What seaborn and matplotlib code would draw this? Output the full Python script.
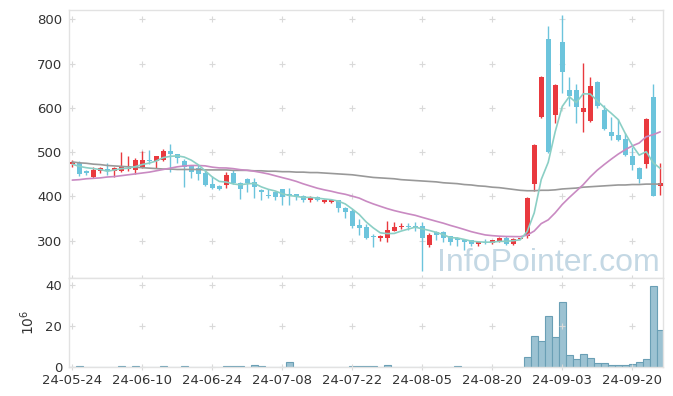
import numpy as np
import pandas as pd
import seaborn as sns
import matplotlib.pyplot as plt

# daily candles (KRW), one per trading day
opens = [473, 476, 458, 443, 458, 462, 458, 458, 463, 460,
         467, 482, 481, 482, 503, 495, 480, 469, 464, 454,
         428, 424, 425, 454, 430, 439, 432, 415, 404, 410,
         417, 405, 405, 401, 391, 398, 387, 387, 392, 374,
         368, 336, 332, 311, 307, 307, 323, 332, 334, 333,
         334, 291, 320, 320, 310, 307, 302, 301, 293, 298,
         295, 300, 307, 293, 305, 310, 428, 580, 756, 585,
         748, 640, 640, 591, 571, 658, 595, 545, 539, 529,
         491, 464, 473, 625, 424]
highs = [482, 480, 460, 467, 467, 475, 466, 501, 491, 488,
         503, 505, 492, 507, 518, 497, 484, 471, 470, 460,
         446, 426, 456, 460, 432, 441, 441, 417, 416, 412,
         418, 419, 406, 403, 402, 400, 394, 394, 393, 376,
         372, 350, 338, 315, 314, 345, 343, 341, 340, 343,
         342, 317, 322, 321, 311, 308, 304, 302, 299, 304,
         302, 309, 311, 307, 305, 398, 518, 671, 784, 653,
         809, 669, 653, 702, 669, 660, 606, 579, 576, 543,
         512, 466, 577, 655, 475]
lows = [467, 447, 449, 441, 452, 449, 445, 456, 458, 451,
        465, 473, 464, 480, 456, 475, 421, 441, 437, 424,
        417, 415, 419, 428, 394, 411, 397, 392, 396, 392,
        381, 381, 392, 388, 387, 389, 385, 385, 366, 352,
        329, 314, 305, 287, 300, 298, 321, 326, 325, 321,
        231, 287, 302, 298, 291, 289, 280, 289, 288, 293,
        293, 298, 291, 291, 305, 307, 413, 578, 498, 565,
        633, 604, 565, 545, 569, 600, 550, 527, 525, 492,
        460, 430, 464, 402, 404]
closes = [477, 451, 452, 460, 464, 458, 465, 467, 465, 482,
          482, 481, 491, 503, 496, 488, 467, 456, 451, 427,
          419, 417, 449, 430, 417, 430, 422, 410, 402, 398,
          399, 402, 400, 391, 398, 391, 392, 392, 375, 366,
          334, 330, 307, 309, 310, 325, 332, 334, 331, 332,
          306, 314, 312, 306, 298, 302, 297, 293, 298, 295,
          301, 307, 293, 305, 305, 396, 516, 669, 500, 651,
          680, 627, 602, 599, 649, 604, 552, 536, 527, 494,
          470, 440, 575, 402, 430]
# volume in millions of shares
volumes = [0.05, 0.5, 0.05, 0.05, 0.05, 0.05, 0.05, 0.5, 0.05, 0.5,
           0.05, 0.05, 0.05, 0.4, 0.05, 0.05, 0.4, 0.05, 0.05, 0.05,
           0.05, 0.05, 0.5, 0.5, 0.5, 0.05, 1.0, 0.5, 0.05, 0.05,
           0.05, 2.4, 0.05, 0.05, 0.05, 0.05, 0.05, 0.05, 0.05, 0.05,
           0.5, 0.5, 0.5, 0.5, 0.05, 1.0, 0.05, 0.05, 0.05, 0.05,
           0.05, 0.05, 0.05, 0.05, 0.05, 0.5, 0.05, 0.05, 0.05, 0.05,
           0.05, 0.05, 0.05, 0.05, 0.0, 4.8, 15.0, 12.7, 24.9, 14.6,
           31.6, 5.7, 3.8, 6.1, 4.2, 1.8, 1.8, 0.9, 0.9, 0.9,
           1.3, 2.2, 3.8, 39.6, 18.0]

# moving averages before enough days are in the window
ma5_head = [473, 468, 465, 463]
ma20_head = [437, 438, 440, 441, 442, 444, 445, 447, 449, 451,
             453, 455, 458, 461, 464, 467, 469, 470, 470]
# long moving average (grey line)
ma_long = [478, 476, 475, 473, 472, 470, 469, 468, 467, 466,
           465, 464, 463, 462, 462, 461, 461, 461, 461, 460,
           460, 460, 460, 459, 459, 459, 458, 458, 457, 457,
           456, 456, 455, 455, 454, 454, 453, 452, 451, 450,
           449, 447, 445, 443, 442, 441, 440, 438, 437, 436,
           435, 434, 433, 431, 430, 429, 427, 426, 424, 423,
           421, 420, 418, 416, 414, 413, 413, 414, 414, 415,
           417, 418, 419, 421, 422, 423, 424, 425, 426, 426,
           427, 427, 428, 428, 428]

tick_labels = ["24-05-24", "24-06-10", "24-06-24", "24-07-08", "24-07-22",
               "24-08-05", "24-08-20", "24-09-03", "24-09-20"]

df = pd.DataFrame({'Open': opens, 'High': highs, 'Low': lows,
                   'Close': closes, 'Volume': volumes})
df['Day'] = np.arange(len(df))
ma5 = df['Close'].rolling(5).mean()
ma5.iloc[:len(ma5_head)] = ma5_head
ma20 = df['Close'].rolling(20).mean()
ma20.iloc[:len(ma20_head)] = ma20_head
df['MA5'] = ma5
df['MA20'] = ma20
df['MALong'] = ma_long

RED = '#e9393e'
BLUE = '#6cc4dc'
GRID = '#d9d9d9'
TXT = '#333333'

sns.set_theme(style='white')
plt.rcParams['font.family'] = ['DejaVu Sans']

fig = plt.figure(figsize=(6.73, 3.96), dpi=100)
ax = fig.add_axes([69 / 673, 1 - 278 / 396, 594 / 673, 268 / 396])
axv = fig.add_axes([69 / 673, 1 - 367 / 396, 594 / 673, 89 / 396])

# candles
up = df['Close'] >= df['Open']
colors = np.where(up, RED, BLUE)
body_lo = df[['Open', 'Close']].min(axis=1)
body_h = (df['Close'] - df['Open']).abs().clip(lower=2.0)
ax.vlines(df['Day'], df['Low'], df['High'], colors=colors, lw=1.0, zorder=2)
ax.bar(df['Day'], body_h, bottom=body_lo, width=0.72, color=colors,
       linewidth=0, zorder=3)

# moving averages
sns.lineplot(data=df, x='Day', y='MALong', ax=ax, color='#999999', lw=1.2, zorder=4)
sns.lineplot(data=df, x='Day', y='MA20', ax=ax, color='#c98ac2', lw=1.2, zorder=4)
sns.lineplot(data=df, x='Day', y='MA5', ax=ax, color='#8bcfc5', lw=1.2, zorder=4)

# volume
sns.barplot(data=df, x='Day', y='Volume', ax=axv, color='#9cc2d2',
            saturation=1, width=1.0, edgecolor='#6a9fb5', linewidth=0.8)

xt = np.arange(0, 81, 10)
xlim = (-0.47, 84.4)

ax.set_xlim(*xlim)
ax.set_ylim(216, 821)
ax.set_yticks([300, 400, 500, 600, 700, 800])
ax.set_xticks(xt)
ax.set_xticklabels([])
ax.set_xlabel('')
ax.set_ylabel('')

axv.set_xlim(*xlim)
axv.set_ylim(0, 43.3)
axv.set_yticks([0, 20, 40])
axv.set_xticks(xt)
axv.set_xticklabels(tick_labels)
axv.set_xlabel('')
axv.set_ylabel(r'$10^6$', color=TXT, fontsize=10, labelpad=6)

# grid drawn as small crosses
for a, ys in ((ax, [216, 300, 400, 500, 600, 700, 800]), (axv, [0, 20, 40])):
    gx, gy = np.meshgrid(xt, ys)
    a.scatter(gx.ravel(), gy.ravel(), marker='+', s=18, color=GRID,
              linewidths=0.8, zorder=1, clip_on=False)
    a.tick_params(length=0, labelsize=9.5, colors=TXT, pad=5)
    for s in a.spines.values():
        s.set_color('#e2e2e2')
        s.set_linewidth(1.0)

ax.text(0.62, 0.027, 'InfoPointer.com', transform=ax.transAxes,
        fontsize=23, color='#c4d8e4', family=['Liberation Sans', 'DejaVu Sans'],
        ha='left', va='baseline', zorder=0)

plt.savefig('out.png', dpi=100)
plt.close()
